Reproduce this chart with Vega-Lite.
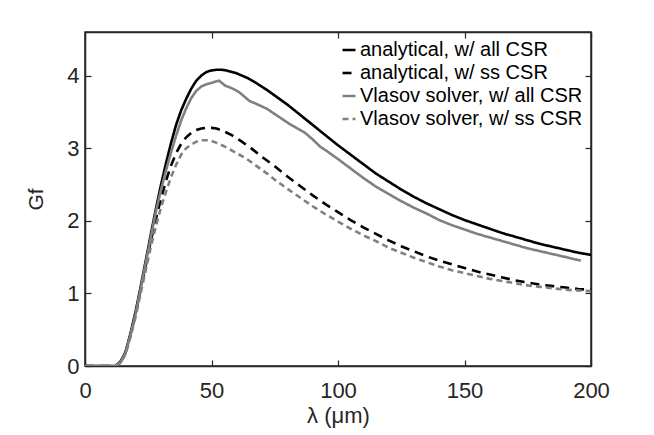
{
  "$schema": "https://vega.github.io/schema/vega-lite/v6.json",
  "width": 506,
  "height": 334,
  "autosize": {"type": "none"},
  "padding": {"left": 85, "top": 32, "right": 63, "bottom": 69},
  "background": "white",
  "config": {
    "view": {"stroke": "#262626", "strokeWidth": 1.5},
    "axis": {
      "grid": false,
      "domainColor": "#262626",
      "domainWidth": 1.5,
      "tickColor": "#262626",
      "tickWidth": 1.2,
      "tickSize": -6,
      "labelPadding": 12,
      "labelFont": "Liberation Sans",
      "labelFontSize": 22,
      "labelColor": "#262626",
      "titleFont": "Liberation Sans",
      "titleFontWeight": "normal",
      "titleColor": "#262626"
    },
    "legend": {
      "labelFont": "Liberation Sans",
      "labelFontSize": 20,
      "labelColor": "#000000",
      "labelLimit": 400
    }
  },
  "resolve": {"axis": {"x": "independent", "y": "independent"}},
  "datasets": {
    "curves": [
      {"s":"analytical, w/ all CSR","x":0,"y":0},{"s":"analytical, w/ all CSR","x":5,"y":0},{"s":"analytical, w/ all CSR","x":10,"y":0},{"s":"analytical, w/ all CSR","x":12,"y":0},{"s":"analytical, w/ all CSR","x":14,"y":0.06},{"s":"analytical, w/ all CSR","x":16,"y":0.19},{"s":"analytical, w/ all CSR","x":18,"y":0.45},{"s":"analytical, w/ all CSR","x":20,"y":0.75},{"s":"analytical, w/ all CSR","x":22,"y":1.09},{"s":"analytical, w/ all CSR","x":24,"y":1.45},{"s":"analytical, w/ all CSR","x":26,"y":1.81},{"s":"analytical, w/ all CSR","x":28,"y":2.16},{"s":"analytical, w/ all CSR","x":30,"y":2.49},{"s":"analytical, w/ all CSR","x":32,"y":2.79},{"s":"analytical, w/ all CSR","x":34,"y":3.07},{"s":"analytical, w/ all CSR","x":36,"y":3.32},{"s":"analytical, w/ all CSR","x":38,"y":3.52},{"s":"analytical, w/ all CSR","x":40,"y":3.68},{"s":"analytical, w/ all CSR","x":42,"y":3.82},{"s":"analytical, w/ all CSR","x":44,"y":3.93},{"s":"analytical, w/ all CSR","x":46,"y":4.0},{"s":"analytical, w/ all CSR","x":48,"y":4.05},{"s":"analytical, w/ all CSR","x":50,"y":4.07},{"s":"analytical, w/ all CSR","x":52,"y":4.08},{"s":"analytical, w/ all CSR","x":54,"y":4.08},{"s":"analytical, w/ all CSR","x":56,"y":4.07},{"s":"analytical, w/ all CSR","x":58,"y":4.05},{"s":"analytical, w/ all CSR","x":60,"y":4.03},{"s":"analytical, w/ all CSR","x":64,"y":3.97},{"s":"analytical, w/ all CSR","x":68,"y":3.89},{"s":"analytical, w/ all CSR","x":72,"y":3.8},{"s":"analytical, w/ all CSR","x":76,"y":3.7},{"s":"analytical, w/ all CSR","x":80,"y":3.6},{"s":"analytical, w/ all CSR","x":85,"y":3.46},{"s":"analytical, w/ all CSR","x":90,"y":3.32},{"s":"analytical, w/ all CSR","x":95,"y":3.18},{"s":"analytical, w/ all CSR","x":100,"y":3.04},{"s":"analytical, w/ all CSR","x":105,"y":2.91},{"s":"analytical, w/ all CSR","x":110,"y":2.78},{"s":"analytical, w/ all CSR","x":115,"y":2.65},{"s":"analytical, w/ all CSR","x":120,"y":2.54},{"s":"analytical, w/ all CSR","x":125,"y":2.43},{"s":"analytical, w/ all CSR","x":130,"y":2.33},{"s":"analytical, w/ all CSR","x":135,"y":2.24},{"s":"analytical, w/ all CSR","x":140,"y":2.16},{"s":"analytical, w/ all CSR","x":145,"y":2.08},{"s":"analytical, w/ all CSR","x":150,"y":2.01},{"s":"analytical, w/ all CSR","x":155,"y":1.95},{"s":"analytical, w/ all CSR","x":160,"y":1.89},{"s":"analytical, w/ all CSR","x":165,"y":1.83},{"s":"analytical, w/ all CSR","x":170,"y":1.78},{"s":"analytical, w/ all CSR","x":175,"y":1.73},{"s":"analytical, w/ all CSR","x":180,"y":1.68},{"s":"analytical, w/ all CSR","x":185,"y":1.64},{"s":"analytical, w/ all CSR","x":190,"y":1.6},{"s":"analytical, w/ all CSR","x":195,"y":1.56},{"s":"analytical, w/ all CSR","x":200,"y":1.53},
      {"s":"analytical, w/ ss CSR","x":0,"y":0},{"s":"analytical, w/ ss CSR","x":5,"y":0},{"s":"analytical, w/ ss CSR","x":10,"y":0},{"s":"analytical, w/ ss CSR","x":12,"y":0},{"s":"analytical, w/ ss CSR","x":14,"y":0.05},{"s":"analytical, w/ ss CSR","x":16,"y":0.18},{"s":"analytical, w/ ss CSR","x":18,"y":0.43},{"s":"analytical, w/ ss CSR","x":20,"y":0.72},{"s":"analytical, w/ ss CSR","x":22,"y":1.05},{"s":"analytical, w/ ss CSR","x":24,"y":1.38},{"s":"analytical, w/ ss CSR","x":26,"y":1.72},{"s":"analytical, w/ ss CSR","x":28,"y":2.02},{"s":"analytical, w/ ss CSR","x":30,"y":2.3},{"s":"analytical, w/ ss CSR","x":32,"y":2.55},{"s":"analytical, w/ ss CSR","x":34,"y":2.76},{"s":"analytical, w/ ss CSR","x":36,"y":2.93},{"s":"analytical, w/ ss CSR","x":38,"y":3.06},{"s":"analytical, w/ ss CSR","x":40,"y":3.15},{"s":"analytical, w/ ss CSR","x":42,"y":3.21},{"s":"analytical, w/ ss CSR","x":44,"y":3.25},{"s":"analytical, w/ ss CSR","x":46,"y":3.27},{"s":"analytical, w/ ss CSR","x":48,"y":3.28},{"s":"analytical, w/ ss CSR","x":50,"y":3.28},{"s":"analytical, w/ ss CSR","x":52,"y":3.27},{"s":"analytical, w/ ss CSR","x":55,"y":3.23},{"s":"analytical, w/ ss CSR","x":58,"y":3.18},{"s":"analytical, w/ ss CSR","x":62,"y":3.09},{"s":"analytical, w/ ss CSR","x":66,"y":2.99},{"s":"analytical, w/ ss CSR","x":70,"y":2.88},{"s":"analytical, w/ ss CSR","x":75,"y":2.75},{"s":"analytical, w/ ss CSR","x":80,"y":2.61},{"s":"analytical, w/ ss CSR","x":85,"y":2.48},{"s":"analytical, w/ ss CSR","x":90,"y":2.35},{"s":"analytical, w/ ss CSR","x":95,"y":2.23},{"s":"analytical, w/ ss CSR","x":100,"y":2.12},{"s":"analytical, w/ ss CSR","x":105,"y":2.01},{"s":"analytical, w/ ss CSR","x":110,"y":1.91},{"s":"analytical, w/ ss CSR","x":115,"y":1.82},{"s":"analytical, w/ ss CSR","x":120,"y":1.73},{"s":"analytical, w/ ss CSR","x":125,"y":1.65},{"s":"analytical, w/ ss CSR","x":130,"y":1.58},{"s":"analytical, w/ ss CSR","x":135,"y":1.51},{"s":"analytical, w/ ss CSR","x":140,"y":1.45},{"s":"analytical, w/ ss CSR","x":145,"y":1.4},{"s":"analytical, w/ ss CSR","x":150,"y":1.35},{"s":"analytical, w/ ss CSR","x":155,"y":1.3},{"s":"analytical, w/ ss CSR","x":160,"y":1.26},{"s":"analytical, w/ ss CSR","x":165,"y":1.22},{"s":"analytical, w/ ss CSR","x":170,"y":1.18},{"s":"analytical, w/ ss CSR","x":175,"y":1.15},{"s":"analytical, w/ ss CSR","x":180,"y":1.12},{"s":"analytical, w/ ss CSR","x":185,"y":1.1},{"s":"analytical, w/ ss CSR","x":190,"y":1.08},{"s":"analytical, w/ ss CSR","x":195,"y":1.06},{"s":"analytical, w/ ss CSR","x":200,"y":1.05},
      {"s":"Vlasov solver, w/ all CSR","x":0,"y":0},{"s":"Vlasov solver, w/ all CSR","x":5,"y":0},{"s":"Vlasov solver, w/ all CSR","x":10,"y":0},{"s":"Vlasov solver, w/ all CSR","x":12,"y":0},{"s":"Vlasov solver, w/ all CSR","x":14,"y":0.05},{"s":"Vlasov solver, w/ all CSR","x":16,"y":0.18},{"s":"Vlasov solver, w/ all CSR","x":18,"y":0.43},{"s":"Vlasov solver, w/ all CSR","x":20,"y":0.72},{"s":"Vlasov solver, w/ all CSR","x":22,"y":1.06},{"s":"Vlasov solver, w/ all CSR","x":24,"y":1.42},{"s":"Vlasov solver, w/ all CSR","x":26,"y":1.77},{"s":"Vlasov solver, w/ all CSR","x":28,"y":2.12},{"s":"Vlasov solver, w/ all CSR","x":30,"y":2.42},{"s":"Vlasov solver, w/ all CSR","x":32,"y":2.69},{"s":"Vlasov solver, w/ all CSR","x":34,"y":2.94},{"s":"Vlasov solver, w/ all CSR","x":36,"y":3.17},{"s":"Vlasov solver, w/ all CSR","x":38,"y":3.38},{"s":"Vlasov solver, w/ all CSR","x":40,"y":3.55},{"s":"Vlasov solver, w/ all CSR","x":42,"y":3.69},{"s":"Vlasov solver, w/ all CSR","x":44,"y":3.79},{"s":"Vlasov solver, w/ all CSR","x":46,"y":3.85},{"s":"Vlasov solver, w/ all CSR","x":48,"y":3.88},{"s":"Vlasov solver, w/ all CSR","x":50,"y":3.9},{"s":"Vlasov solver, w/ all CSR","x":52,"y":3.92},{"s":"Vlasov solver, w/ all CSR","x":53,"y":3.93},{"s":"Vlasov solver, w/ all CSR","x":54,"y":3.9},{"s":"Vlasov solver, w/ all CSR","x":55.5,"y":3.86},{"s":"Vlasov solver, w/ all CSR","x":57,"y":3.84},{"s":"Vlasov solver, w/ all CSR","x":59,"y":3.81},{"s":"Vlasov solver, w/ all CSR","x":61,"y":3.77},{"s":"Vlasov solver, w/ all CSR","x":63,"y":3.71},{"s":"Vlasov solver, w/ all CSR","x":65,"y":3.65},{"s":"Vlasov solver, w/ all CSR","x":67,"y":3.62},{"s":"Vlasov solver, w/ all CSR","x":69,"y":3.59},{"s":"Vlasov solver, w/ all CSR","x":72,"y":3.54},{"s":"Vlasov solver, w/ all CSR","x":75,"y":3.47},{"s":"Vlasov solver, w/ all CSR","x":78,"y":3.4},{"s":"Vlasov solver, w/ all CSR","x":81,"y":3.33},{"s":"Vlasov solver, w/ all CSR","x":84,"y":3.27},{"s":"Vlasov solver, w/ all CSR","x":87,"y":3.21},{"s":"Vlasov solver, w/ all CSR","x":90,"y":3.12},{"s":"Vlasov solver, w/ all CSR","x":93,"y":3.02},{"s":"Vlasov solver, w/ all CSR","x":96,"y":2.95},{"s":"Vlasov solver, w/ all CSR","x":100,"y":2.85},{"s":"Vlasov solver, w/ all CSR","x":105,"y":2.72},{"s":"Vlasov solver, w/ all CSR","x":110,"y":2.59},{"s":"Vlasov solver, w/ all CSR","x":115,"y":2.47},{"s":"Vlasov solver, w/ all CSR","x":120,"y":2.37},{"s":"Vlasov solver, w/ all CSR","x":125,"y":2.27},{"s":"Vlasov solver, w/ all CSR","x":130,"y":2.18},{"s":"Vlasov solver, w/ all CSR","x":135,"y":2.1},{"s":"Vlasov solver, w/ all CSR","x":140,"y":2.01},{"s":"Vlasov solver, w/ all CSR","x":145,"y":1.94},{"s":"Vlasov solver, w/ all CSR","x":150,"y":1.88},{"s":"Vlasov solver, w/ all CSR","x":155,"y":1.82},{"s":"Vlasov solver, w/ all CSR","x":160,"y":1.77},{"s":"Vlasov solver, w/ all CSR","x":165,"y":1.72},{"s":"Vlasov solver, w/ all CSR","x":170,"y":1.67},{"s":"Vlasov solver, w/ all CSR","x":175,"y":1.62},{"s":"Vlasov solver, w/ all CSR","x":180,"y":1.58},{"s":"Vlasov solver, w/ all CSR","x":185,"y":1.54},{"s":"Vlasov solver, w/ all CSR","x":190,"y":1.5},{"s":"Vlasov solver, w/ all CSR","x":196,"y":1.45},
      {"s":"Vlasov solver, w/ ss CSR","x":0,"y":0},{"s":"Vlasov solver, w/ ss CSR","x":5,"y":0},{"s":"Vlasov solver, w/ ss CSR","x":10,"y":0},{"s":"Vlasov solver, w/ ss CSR","x":12,"y":0},{"s":"Vlasov solver, w/ ss CSR","x":14,"y":0.04},{"s":"Vlasov solver, w/ ss CSR","x":16,"y":0.16},{"s":"Vlasov solver, w/ ss CSR","x":18,"y":0.4},{"s":"Vlasov solver, w/ ss CSR","x":20,"y":0.68},{"s":"Vlasov solver, w/ ss CSR","x":22,"y":1.0},{"s":"Vlasov solver, w/ ss CSR","x":24,"y":1.32},{"s":"Vlasov solver, w/ ss CSR","x":26,"y":1.64},{"s":"Vlasov solver, w/ ss CSR","x":28,"y":1.92},{"s":"Vlasov solver, w/ ss CSR","x":30,"y":2.18},{"s":"Vlasov solver, w/ ss CSR","x":32,"y":2.4},{"s":"Vlasov solver, w/ ss CSR","x":34,"y":2.6},{"s":"Vlasov solver, w/ ss CSR","x":36,"y":2.77},{"s":"Vlasov solver, w/ ss CSR","x":38,"y":2.91},{"s":"Vlasov solver, w/ ss CSR","x":40,"y":3.0},{"s":"Vlasov solver, w/ ss CSR","x":42,"y":3.05},{"s":"Vlasov solver, w/ ss CSR","x":44,"y":3.09},{"s":"Vlasov solver, w/ ss CSR","x":46,"y":3.11},{"s":"Vlasov solver, w/ ss CSR","x":48,"y":3.11},{"s":"Vlasov solver, w/ ss CSR","x":50,"y":3.1},{"s":"Vlasov solver, w/ ss CSR","x":53,"y":3.06},{"s":"Vlasov solver, w/ ss CSR","x":56,"y":3.01},{"s":"Vlasov solver, w/ ss CSR","x":60,"y":2.93},{"s":"Vlasov solver, w/ ss CSR","x":64,"y":2.85},{"s":"Vlasov solver, w/ ss CSR","x":68,"y":2.75},{"s":"Vlasov solver, w/ ss CSR","x":72,"y":2.65},{"s":"Vlasov solver, w/ ss CSR","x":76,"y":2.54},{"s":"Vlasov solver, w/ ss CSR","x":80,"y":2.44},{"s":"Vlasov solver, w/ ss CSR","x":85,"y":2.32},{"s":"Vlasov solver, w/ ss CSR","x":90,"y":2.2},{"s":"Vlasov solver, w/ ss CSR","x":95,"y":2.09},{"s":"Vlasov solver, w/ ss CSR","x":100,"y":1.99},{"s":"Vlasov solver, w/ ss CSR","x":105,"y":1.89},{"s":"Vlasov solver, w/ ss CSR","x":110,"y":1.8},{"s":"Vlasov solver, w/ ss CSR","x":115,"y":1.72},{"s":"Vlasov solver, w/ ss CSR","x":120,"y":1.63},{"s":"Vlasov solver, w/ ss CSR","x":125,"y":1.56},{"s":"Vlasov solver, w/ ss CSR","x":130,"y":1.49},{"s":"Vlasov solver, w/ ss CSR","x":135,"y":1.43},{"s":"Vlasov solver, w/ ss CSR","x":140,"y":1.37},{"s":"Vlasov solver, w/ ss CSR","x":145,"y":1.32},{"s":"Vlasov solver, w/ ss CSR","x":150,"y":1.28},{"s":"Vlasov solver, w/ ss CSR","x":155,"y":1.24},{"s":"Vlasov solver, w/ ss CSR","x":160,"y":1.2},{"s":"Vlasov solver, w/ ss CSR","x":165,"y":1.17},{"s":"Vlasov solver, w/ ss CSR","x":170,"y":1.14},{"s":"Vlasov solver, w/ ss CSR","x":175,"y":1.11},{"s":"Vlasov solver, w/ ss CSR","x":180,"y":1.09},{"s":"Vlasov solver, w/ ss CSR","x":185,"y":1.07},{"s":"Vlasov solver, w/ ss CSR","x":190,"y":1.05},{"s":"Vlasov solver, w/ ss CSR","x":195,"y":1.04},{"s":"Vlasov solver, w/ ss CSR","x":200,"y":1.03}
    ]
  },
  "data": {"name": "curves"},
  "layer": [
    {
      "mark": {"type": "line", "clip": true, "strokeCap": "butt"},
      "encoding": {
        "x": {
          "field": "x", "type": "quantitative",
          "scale": {"domain": [0, 200], "nice": false},
          "axis": {"orient": "bottom", "values": [0, 50, 100, 150, 200], "labelPadding": 20, "title": "λ (μm)", "titleFontSize": 22, "titlePadding": 4, "labelFlush": false}
        },
        "y": {
          "field": "y", "type": "quantitative",
          "scale": {"domain": [0, 4.6], "nice": false, "zero": false},
          "axis": {"orient": "left", "values": [0, 1, 2, 3, 4], "title": "Gf", "titleFontSize": 21, "titlePadding": 20}
        },
        "color": {
          "field": "s", "type": "nominal",
          "scale": {"domain": ["analytical, w/ all CSR", "analytical, w/ ss CSR", "Vlasov solver, w/ all CSR", "Vlasov solver, w/ ss CSR"], "range": ["#000000", "#000000", "#808080", "#808080"]},
          "legend": {"title": null, "orient": "top-right", "offset": 8, "symbolType": "stroke", "symbolSize": 169, "rowPadding": 3, "labelOffset": 1, "padding": 0}
        },
        "strokeDash": {
          "field": "s", "type": "nominal",
          "scale": {"domain": ["analytical, w/ all CSR", "analytical, w/ ss CSR", "Vlasov solver, w/ all CSR", "Vlasov solver, w/ ss CSR"], "range": [[1, 0], [9, 6], [1, 0], [6, 4]]},
          "legend": {"title": null}
        },
        "strokeWidth": {
          "field": "s", "type": "nominal",
          "scale": {"domain": ["analytical, w/ all CSR", "analytical, w/ ss CSR", "Vlasov solver, w/ all CSR", "Vlasov solver, w/ ss CSR"], "range": [2.6, 2.6, 1.6, 1.6]},
          "legend": {"title": null}
        }
      }
    },
    {
      "mark": {"type": "line", "opacity": 0},
      "encoding": {
        "x": {"field": "x", "type": "quantitative", "axis": {"orient": "top", "values": [0, 50, 100, 150, 200], "labels": false, "title": null}},
        "y": {"field": "y", "type": "quantitative", "axis": {"orient": "right", "values": [0, 1, 2, 3, 4], "labels": false, "title": null}},
        "detail": {"field": "s"}
      }
    }
  ]
}
